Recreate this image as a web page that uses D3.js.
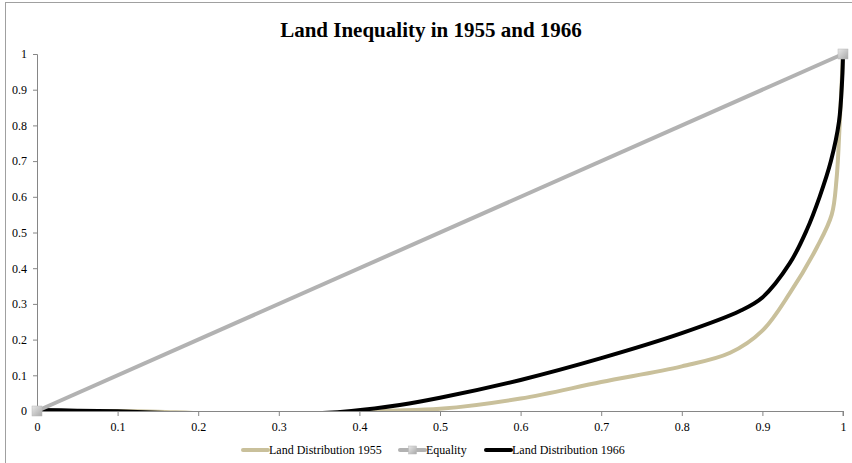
<!DOCTYPE html>
<html>
<head>
<meta charset="utf-8">
<script src="https://cdn.jsdelivr.net/npm/d3@7"></script>
<style>
  body { margin: 0; background: #fff; }
  text { font-family: "Liberation Serif", "Times New Roman", serif; }
</style>
</head>
<body>
<div id="chart"></div>
<script>
(function() {
  // values (share of holders, share of land)
  var xs1955 = [0, 0.1, 0.15, 0.2, 0.3, 0.4, 0.43, 0.5, 0.6, 0.7, 0.8, 0.86, 0.9, 0.934, 0.968, 0.986, 0.992, 0.996, 1];
  var ys1955 = [0, 0, -0.002, -0.006, -0.009, -0.006, 0, 0.006, 0.035, 0.081, 0.125, 0.163, 0.225, 0.33, 0.46, 0.55, 0.65, 0.81, 1];

  var xs1966 = [0, 0.05, 0.1, 0.15, 0.25, 0.35, 0.39, 0.45, 0.5, 0.6, 0.7, 0.8, 0.872, 0.9, 0.934, 0.955, 0.971, 0.985, 0.995, 0.999, 1];
  var ys1966 = [0.003, 0.001, -0.001, -0.005, -0.01, -0.006, 0, 0.017, 0.037, 0.087, 0.148, 0.218, 0.28, 0.318, 0.414, 0.507, 0.6, 0.7, 0.81, 0.93, 1];

  var xsEquality = [0, 1];
  var ysEquality = [0, 1];

  var xTicks = [0, 0.1, 0.2, 0.3, 0.4, 0.5, 0.6, 0.7, 0.8, 0.9, 1];
  var yTicks = [0, 0.1, 0.2, 0.3, 0.4, 0.5, 0.6, 0.7, 0.8, 0.9, 1];

  var seriesNames = ["Land Distribution 1955", "Equality", "Land Distribution 1966"];

  var margin = { top: 54, left: 37, right: 9, bottom: 52 },
      width = 852 - margin.left - margin.right,
      height = 463 - margin.top - margin.bottom;

  var root = d3.select("#chart")
    .append("svg")
    .attr("width", 852)
    .attr("height", 463);

  // chart frame
  root.append("rect")
    .attr("x", 5.5).attr("y", 2.5)
    .attr("width", 900).attr("height", 500)
    .attr("fill", "none")
    .attr("stroke", "#a0a0a0")
    .attr("stroke-width", 1);

  root.append("text")
    .attr("x", 431)
    .attr("y", 37)
    .attr("text-anchor", "middle")
    .attr("font-size", "21px")
    .attr("font-weight", "bold")
    .attr("fill", "#000")
    .text("Land Inequality in 1955 and 1966");

  var svg = root.append("g")
    .attr("transform", "translate(" + margin.left + "," + margin.top + ")");

  var xPositionScale = d3.scaleLinear().domain([0, 1]).range([0, width]);
  var yPositionScale = d3.scaleLinear().domain([0, 1]).range([height, 0]);

  var xAxis = d3.axisBottom(xPositionScale)
    .tickValues(xTicks)
    .tickSize(5)
    .tickPadding(6)
    .tickFormat(d3.format("~g"));

  var yAxis = d3.axisLeft(yPositionScale)
    .tickValues(yTicks)
    .tickSize(4)
    .tickPadding(6)
    .tickFormat(d3.format("~g"));

  var gx = svg.append("g")
    .attr("class", "axis x-axis")
    .attr("transform", "translate(0," + height + ")")
    .call(xAxis);

  var gy = svg.append("g")
    .attr("class", "axis y-axis")
    .call(yAxis);

  [gx, gy].forEach(function(g) {
    g.select(".domain").attr("stroke", "#868686");
    g.selectAll(".tick line").attr("stroke", "#868686");
    g.selectAll(".tick text")
      .attr("font-family", "'Liberation Serif', 'Times New Roman', serif")
      .attr("font-size", "12px")
      .attr("fill", "#000");
  });
  gx.select(".domain").attr("d", "M0,0.5H" + width + "V5");

  svg.append("clipPath")
    .attr("id", "plot-clip")
    .append("rect")
    .attr("x", -10).attr("y", -10)
    .attr("width", width + 20)
    .attr("height", height + 10);

  var line = d3.line()
    .x(function(d) { return xPositionScale(d[0]) })
    .y(function(d) { return yPositionScale(d[1]) })
    .curve(d3.curveCatmullRom.alpha(0.5));

  var data1955 = xs1955.map(function(x, i) { return [x, ys1955[i]] });
  var data1966 = xs1966.map(function(x, i) { return [x, ys1966[i]] });
  var dataEq = xsEquality.map(function(x, i) { return [x, ysEquality[i]] });

  var plot = svg.append("g").attr("clip-path", "url(#plot-clip)");

  plot.append("path")
    .datum(data1955)
    .attr("d", line)
    .attr("fill", "none")
    .attr("stroke", "#c9c09b")
    .attr("stroke-width", 4)
    .attr("stroke-linejoin", "round");

  svg.append("path")
    .datum(dataEq)
    .attr("d", d3.line()
      .x(function(d) { return xPositionScale(d[0]) })
      .y(function(d) { return yPositionScale(d[1]) }))
    .attr("fill", "none")
    .attr("stroke", "#b2b2b2")
    .attr("stroke-width", 4);

  plot.append("path")
    .datum(data1966)
    .attr("d", line)
    .attr("fill", "none")
    .attr("stroke", "#000")
    .attr("stroke-width", 4)
    .attr("stroke-linejoin", "round");

  // square markers on the equality line
  var grad = root.append("defs").append("linearGradient")
    .attr("id", "marker-grad")
    .attr("x1", 0).attr("y1", 0).attr("x2", 1).attr("y2", 1);
  grad.append("stop").attr("offset", "0%").attr("stop-color", "#e8e8e8");
  grad.append("stop").attr("offset", "100%").attr("stop-color", "#a8a8a8");

  svg.selectAll(".eq-marker")
    .data(dataEq)
    .enter().append("rect")
    .attr("class", "eq-marker")
    .attr("x", function(d) { return xPositionScale(d[0]) - 5 })
    .attr("y", function(d) { return yPositionScale(d[1]) - 5 })
    .attr("width", 10)
    .attr("height", 10)
    .attr("fill", "url(#marker-grad)")
    .attr("stroke", "#b8b8b8")
    .attr("stroke-width", 0.5);

  // legend
  var legendX = [243, 400, 486];
  var legendColors = ["#c9c09b", "#b2b2b2", "#000"];
  var legend = root.append("g").attr("transform", "translate(0,450)");

  seriesNames.forEach(function(name, i) {
    legend.append("line")
      .attr("x1", legendX[i]).attr("x2", legendX[i] + 25)
      .attr("y1", 0).attr("y2", 0)
      .attr("stroke", legendColors[i])
      .attr("stroke-width", 4)
      .attr("stroke-linecap", "round");
    if (name == "Equality") {
      legend.append("rect")
        .attr("x", legendX[i] + 8.5).attr("y", -4)
        .attr("width", 8).attr("height", 8)
        .attr("fill", "url(#marker-grad)")
        .attr("stroke", "#b8b8b8")
        .attr("stroke-width", 0.5);
    }
    legend.append("text")
      .attr("x", legendX[i] + 26)
      .attr("y", 4)
      .attr("font-size", "12px")
      .attr("fill", "#000")
      .text(name);
  });
})();
</script>
</body>
</html>
